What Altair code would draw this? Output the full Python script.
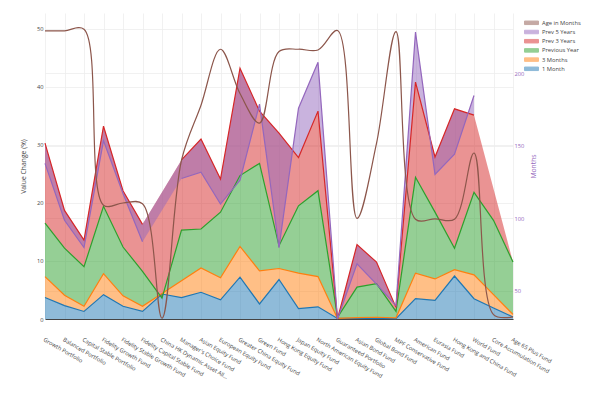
import altair as alt
import pandas as pd

funds = ["Growth Portfolio", "Balanced Portfolio", "Capital Stable Portfolio", "Fidelity Growth Fund",
         "Fidelity Stable Growth Fund", "Fidelity Capital Stable Fund",
         "China HK Dynamic Asset Allocation Fund", "Manager's Choice Fund", "Asian Equity Fund",
         "European Equity Fund", "Greater China Equity Fund", "Green Fund", "Hong Kong Equity Fund",
         "Japan Equity Fund", "North American Equity Fund", "Guaranteed Portfolio", "Asian Bond Fund",
         "Global Bond Fund", "MPF Conservative Fund", "American Fund", "Eurasia Fund",
         "Hong Kong and China Fund", "World Fund", "Core Accumulation Fund", "Age 65 Plus Fund"]

one_month = [3.7, 2.3, 1.3, 4.2, 2.2, 1.3, 4.3, 3.7, 4.6, 3.3, 7.2, 2.6, 6.8, 1.8, 2.1,
             0.1, 0.1, 0.1, 0.05, 3.5, 3.2, 7.4, 3.5, 1.9, 0.35]
three_months = [7.3, 4.1, 2.2, 7.8, 4.0, 2.2, 4.4, 6.6, 8.8, 7.1, 12.5, 8.3, 8.7, 7.9, 7.3,
                0.1, 0.25, 0.3, 0.2, 7.9, 6.9, 8.5, 7.6, 4.2, 0.8]
previous_year = [16.5, 12.2, 9.0, 19.4, 12.4, 8.2, 3.6, 15.3, 15.5, 18.4, 24.7, 26.8, 12.6, 19.5, 22.1,
                 0.3, 5.5, 6.1, 1.3, 24.4, 18.4, 12.2, 21.8, 17.0, 9.8]
prev_3_years = [30.3, 18.7, 13.6, 33.2, 22.1, 16.3, None, 27.4, 31.0, 24.1, 43.2, 35.8, 32.0, 27.8, 35.8,
                0.0, 12.8, 9.8, 2.0, 40.8, 27.9, 36.2, 35.1, None, None]
prev_5_years = [26.8, 17.0, 12.3, 30.7, 21.6, 13.3, None, 24.2, 25.3, 19.8, 23.9, 37.0, 12.3, 36.3, 44.2,
                0.0, 9.5, 6.0, 2.3, 49.4, 24.9, 28.4, 38.5, None, None]
age_months = [229.3, 229.3, 230.4, 109.0, 110.5, 110.0, 31.0, 140.0, 178.0, 216.6, 186.0, 165.6, 215.0,
              216.6, 216.1, 229.5, 99.9, 151.6, 228.8, 99.3, 99.6, 99.3, 145.0, 33.5, 32.0]

legend_order = ["Age in Months", "Prev 5 Years", "Prev 3 Years", "Previous Year", "3 Months", "1 Month"]
colors = ["#8c564b", "#9467bd", "#d62728", "#2ca02c", "#ff7f0e", "#1f77b4"]


def fill_edge(vals, fallback_end=None):
    """Edge of a 'fill to next trace' polygon: gaps are bridged straight across;
    a trailing gap closes onto fallback_end (the previous trace) or stays open."""
    out = list(vals)
    n = len(out)
    defined = [i for i, v in enumerate(out) if v is not None]
    last = defined[-1]
    for i in range(n):
        if out[i] is None:
            prev = max(j for j in defined if j < i)
            nxt = [j for j in defined if j > i]
            if nxt:
                j = nxt[0]
                out[i] = out[prev] + (out[j] - out[prev]) * (i - prev) / (j - prev)
            elif fallback_end is not None:
                j = n - 1
                out[i] = out[last] + (fallback_end[j] - out[last]) * (i - last) / (j - last)
    return out


red_edge = fill_edge(prev_3_years, previous_year)
purple_edge_full = fill_edge(prev_5_years, None)
last_purple = max(k for k, v in enumerate(prev_5_years) if v is not None)
purple_edge = [purple_edge_full[i] if i <= last_purple else None for i in range(len(funds))]
purple_base = [red_edge[i] if purple_edge[i] is not None else None for i in range(len(funds))]

series_spec = [
    ("1 Month", one_month, one_month, [0.0] * len(funds)),
    ("3 Months", three_months, three_months, one_month),
    ("Previous Year", previous_year, previous_year, three_months),
    ("Prev 3 Years", prev_3_years, red_edge, previous_year),
    ("Prev 5 Years", prev_5_years, purple_edge, purple_base),
]

rows = []
for name, line_vals, top_vals, base_vals in series_spec:
    for i, f in enumerate(funds):
        rows.append({"fund": f, "series": name, "line": line_vals[i],
                     "top": top_vals[i], "base": base_vals[i]})
df = pd.DataFrame(rows)
age_df = pd.DataFrame({"fund": funds, "series": "Age in Months", "age": age_months})

FONT = "Open Sans"
x_enc = alt.X("fund:N", sort=funds,
              scale=alt.Scale(domain=funds, type="point", padding=0),
              axis=alt.Axis(title=None, labelAngle=30, labelAlign="left", labelBaseline="top",
                            labelPadding=17, ticks=False, tickSize=0, labelFontSize=5.7,
                            labelColor="#444", labelLimit=80, grid=True, gridColor="#eee",
                            gridWidth=0.8, domain=True, domainColor="#444", domainWidth=1,
                            labelOverlap=False))
left_scale = alt.Scale(domain=[0, 52.7], nice=False, zero=False)
left_axis = alt.Axis(title="Value Change (%)", values=[0, 10, 20, 30, 40, 50], grid=True,
                     gridColor="#eee", gridWidth=0.8, domain=False, ticks=False, labelPadding=2,
                     labelFontSize=5.7, labelColor="#444", titleFontSize=6.8, titleColor="#444",
                     titleFontWeight="normal", titlePadding=10)
color_enc = alt.Color("series:N", scale=alt.Scale(domain=legend_order, range=colors),
                      legend=alt.Legend(title=None, orient="none", legendX=482.5, legendY=5.8,
                                        symbolType="M-2,-0.5H2V0.5H-2Z", symbolSize=49,
                                        symbolStrokeWidth=1, labelFontSize=5.8, labelColor="#444",
                                        labelOffset=6.5, rowPadding=1.2, padding=0, labelFont=FONT))

areas = []
lines = []
for name, _, _, _ in series_spec:
    base = alt.Chart(df).transform_filter(alt.datum.series == name)
    areas.append(base.mark_area(opacity=0.5, interpolate="linear").encode(
        x=x_enc,
        y=alt.Y("top:Q", scale=left_scale, axis=left_axis),
        y2="base:Q",
        color=color_enc,
    ))
    lines.append(base.mark_line(strokeWidth=1.2, invalid="break-paths-show-domains").encode(
        x=x_enc,
        y=alt.Y("line:Q", scale=left_scale, axis=left_axis),
        color=color_enc,
    ))

left = alt.layer(*areas, *lines)

age_line = alt.Chart(age_df).mark_line(strokeWidth=1.2, interpolate="catmull-rom", clip=True).encode(
    x=x_enc,
    y=alt.Y("age:Q", scale=alt.Scale(domain=[30.47, 241.6], nice=False, zero=False),
            axis=alt.Axis(orient="right", title="Months", values=[50, 100, 150, 200], grid=True,
                          gridColor="#eee", gridWidth=0.8, domain=False, ticks=False,
                          labelPadding=1, labelFontSize=5.7, labelColor="#9467bd",
                          titleFontSize=6.8, titleColor="#9467bd", titleFontWeight="normal",
                          titlePadding=13, titleAngle=270)),
    color=color_enc,
)

chart = alt.layer(left, age_line).resolve_scale(y="independent").properties(
    width=468, height=306,
    autosize=alt.AutoSizeParams(type="none"),
    padding={"left": 37, "top": 5, "right": 79, "bottom": 70},
    background="white",
).configure(font=FONT).configure_view(strokeWidth=0)

chart.save("out.html", embed_options={"renderer": "svg", "actions": False})
